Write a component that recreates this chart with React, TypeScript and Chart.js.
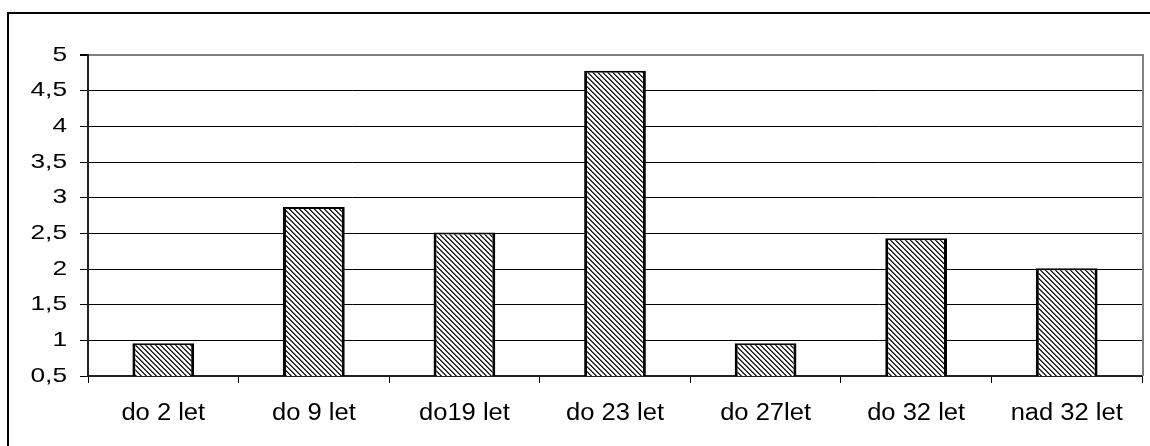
import React, { useEffect, useRef } from "react";
import { Chart, registerables } from "chart.js";

Chart.register(...registerables);

const categories = ["do 2 let", "do 9 let", "do19 let", "do 23 let", "do 27let", "do 32 let", "nad 32 let"];
const values = [0.96, 2.87, 2.51, 4.78, 0.96, 2.43, 2.01];
const yMin = 0.5;
const yMax = 5;
const yStep = 0.5;

function makePattern(): CanvasPattern | string {
  const p = 5;
  const c = document.createElement("canvas");
  c.width = p;
  c.height = p;
  const g = c.getContext("2d");
  if (!g) return "#888";
  const img = g.createImageData(p, p);
  const shades = [20, 90, 255, 255, 230];
  for (let y = 0; y < p; y++) {
    for (let x = 0; x < p; x++) {
      const k = (((x - y) % p) + p) % p;
      const v = shades[k];
      const i = (y * p + x) * 4;
      img.data[i] = v;
      img.data[i + 1] = v;
      img.data[i + 2] = v;
      img.data[i + 3] = 255;
    }
  }
  g.putImageData(img, 0, 0);
  const pat = g.createPattern(c, "repeat");
  return pat || "#888";
}

const rightBorder = {
  id: "rightBorder",
  afterDraw(chart: any) {
    const { ctx, chartArea } = chart;
    ctx.save();
    ctx.strokeStyle = "#808080";
    ctx.lineWidth = 2;
    ctx.beginPath();
    ctx.moveTo(chartArea.right + 1, chartArea.top - 1);
    ctx.lineTo(chartArea.right + 1, chartArea.bottom);
    ctx.stroke();
    ctx.restore();
  },
};

// horizontal stretch of tick label text (the reference text is drawn wide)
const labelStretchFactors: Record<string, number> = { x: 1.11, y: 1.25 };
const labelStretch = {
  id: "labelStretch",
  beforeDraw(chart: any) {
    for (const id of Object.keys(labelStretchFactors)) {
      const scale = chart.scales[id];
      if (!scale || scale._stretched) continue;
      const sx = labelStretchFactors[id];
      const orig = scale.drawLabels.bind(scale);
      scale.drawLabels = (area: any) => {
        const ctx = scale.ctx;
        const origFill = CanvasRenderingContext2D.prototype.fillText;
        (ctx as any).fillText = function (text: string, x: number, y: number, maxWidth?: number) {
          this.save();
          this.scale(sx, 1);
          if (maxWidth === undefined) origFill.call(this, text, x / sx, y);
          else origFill.call(this, text, x / sx, y, maxWidth / sx);
          this.restore();
        };
        try {
          orig(area);
        } finally {
          delete (ctx as any).fillText;
        }
      };
      scale._stretched = true;
    }
  },
};

export default function App() {
  const ref = useRef<HTMLCanvasElement>(null);
  useEffect(() => {
    if (!ref.current) return;
    const pattern = makePattern();
    const font = "'Liberation Sans', Arial, sans-serif";
    const chart = new Chart(ref.current, {
      type: "bar",
      data: {
        labels: categories,
        datasets: [
          {
            data: values,
            backgroundColor: pattern as any,
            borderColor: "#000",
            borderWidth: { top: 2, left: 3, right: 3, bottom: 0 } as any,
            borderSkipped: false,
            barPercentage: 0.41,
            categoryPercentage: 1,
          },
        ],
      },
      options: {
        animation: false,
        responsive: false,
        devicePixelRatio: 1,
        layout: { padding: { left: 0, top: 55, right: 8, bottom: 0 } },
        plugins: { legend: { display: false }, tooltip: { enabled: false }, title: { display: false } },
        scales: {
          x: {
            afterFit(scale: any) {
              scale.height = 70;
            },
            grid: {
              drawOnChartArea: false,
              drawTicks: true,
              tickLength: 7,
              offset: true,
              color: "#000",
              tickColor: "#000",
              lineWidth: 1,
            },
            border: { display: true, color: "#222", width: 2 },
            ticks: {
              color: "#000",
              padding: 17,
              maxRotation: 0,
              autoSkip: false,
              font: { family: font, size: 23 },
            },
          },
          y: {
            min: yMin,
            max: yMax,
            afterFit(scale: any) {
              scale.width = 88;
            },
            grid: {
              drawTicks: true,
              tickLength: 8,
              color: (ctx: any) => (ctx.tick && ctx.tick.value === yMax ? "#808080" : "#000"),
              lineWidth: (ctx: any) => (ctx.tick && ctx.tick.value === yMax ? 2 : 1),
              tickColor: "#000",
            },
            border: { display: true, color: "#222", width: 2 },
            ticks: {
              stepSize: yStep,
              color: "#000",
              padding: 13,
              font: { family: font, size: 21 },
              callback: (v: any) => String(v).replace(".", ","),
            },
          },
        },
      },
      plugins: [rightBorder, labelStretch],
    });
    return () => chart.destroy();
  }, []);

  return (
    <div
      style={{
        position: "absolute",
        left: 0,
        top: 0,
        width: 1150,
        height: 446,
        overflow: "hidden",
        background: "#fff",
      }}
    >
      <div
        style={{
          position: "absolute",
          left: 7,
          top: 12,
          width: 2000,
          height: 1000,
          borderTop: "2px solid #000",
          borderLeft: "2px solid #000",
        }}
      />
      <canvas
        ref={ref}
        width={1150}
        height={446}
        style={{ position: "absolute", left: 0, top: 0, width: 1150, height: 446 }}
      />
    </div>
  );
}
